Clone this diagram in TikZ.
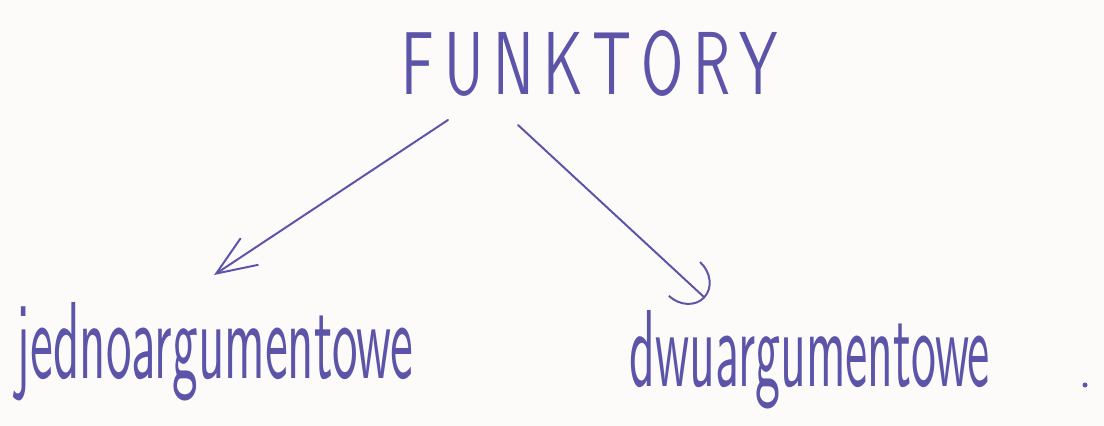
\documentclass[tikz,border=0pt]{standalone}
\usetikzlibrary{arrows.meta}
\definecolor{ink}{RGB}{92,84,168}
\definecolor{paper}{RGB}{252,251,250}
\tikzset{
  lbl/.style={text=ink, inner sep=0pt, font=\sffamily},
  conn/.style={draw=ink, line width=1.4pt, line cap=round},
}
\begin{document}
\begin{tikzpicture}[x=0.025cm,y=-0.025cm]
\fill[paper] (0,0) rectangle (1104,426);
\useasboundingbox (0,0) rectangle (1104,426);
\node[lbl] (top) at (590,63) {\resizebox{9.4cm}{1.6cm}{F\,U\,N\,K\,T\,O\,R\,Y}};
\node[lbl] (left) at (215,352) {\resizebox{9.9cm}{1.9cm}{jednoargumentowe}};
\node[lbl] (right) at (810,360) {\resizebox{9.0cm}{1.9cm}{dwuargumentowe}};
\coordinate (s1) at (448,120);
\coordinate (e1) at (214,275);
\coordinate (s2) at (518,125);
\coordinate (e2) at (705,298);
\draw[conn, -{Straight Barb[length=1cm,width=0.8cm,line width=1.4pt]}] (s1) -- (e1);
\draw[conn, -{Arc Barb[length=0.7cm,width=1.2cm,line width=1.4pt]}] (s2) -- (e2);
\fill[ink] (1085,385) circle (2.5);
\end{tikzpicture}
\end{document}
